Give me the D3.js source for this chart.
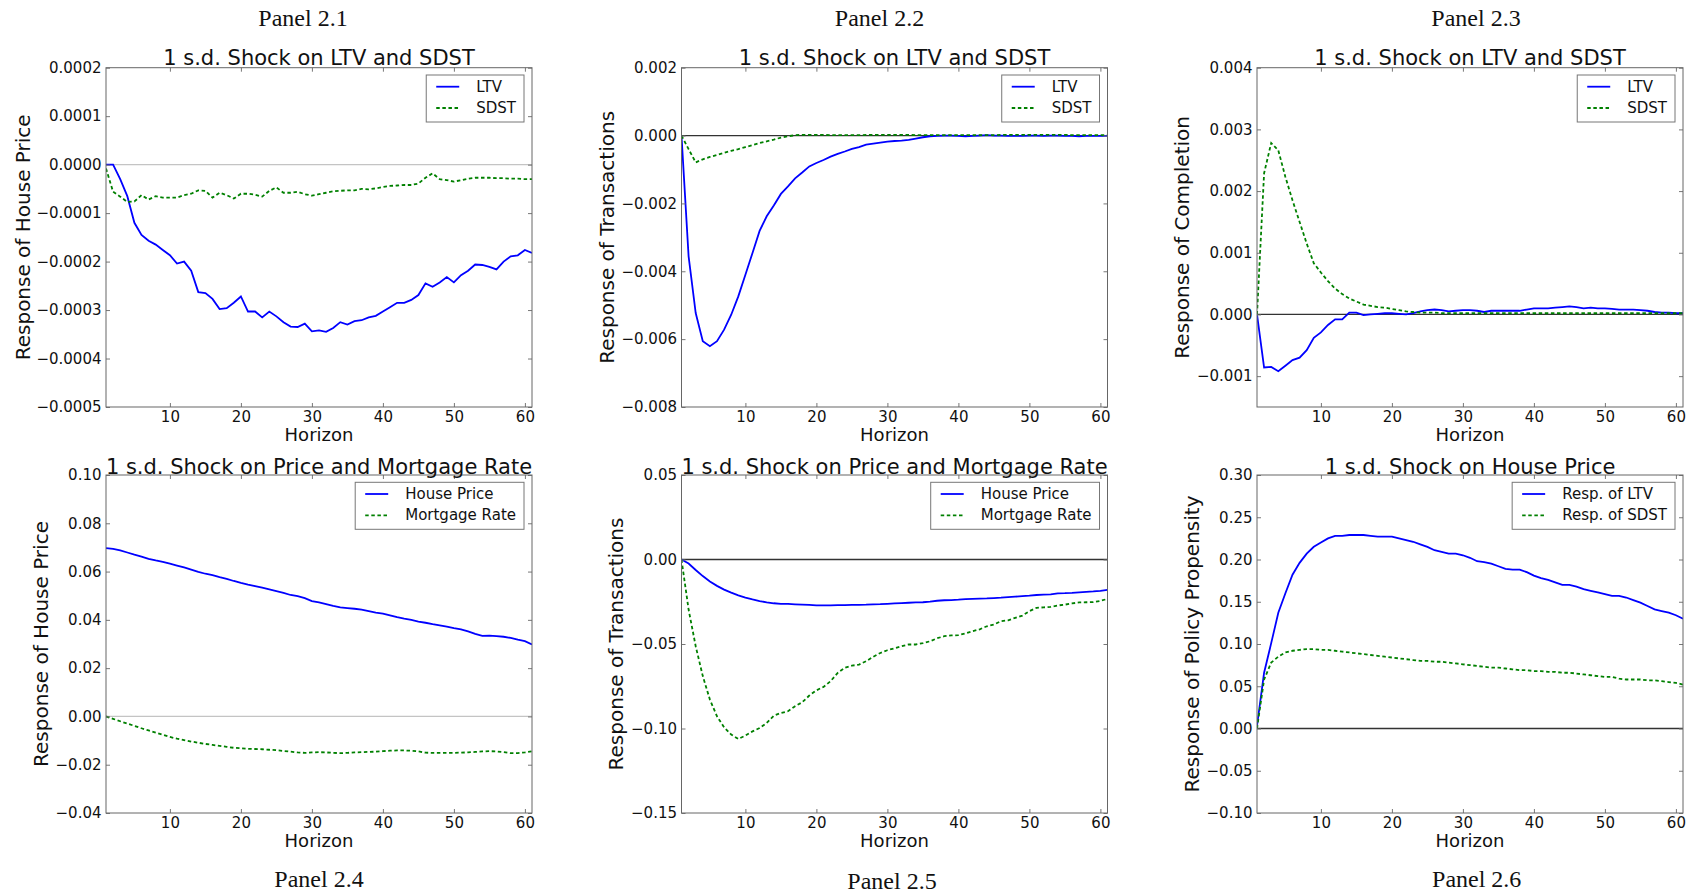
<!DOCTYPE html>
<html>
<head>
<meta charset="utf-8">
<script src="https://cdn.jsdelivr.net/npm/d3@7"></script>
<style>
  html, body { margin: 0; padding: 0; background: #fff; }
  svg { display: block; }
  text { font-family: "DejaVu Sans", sans-serif; fill: #111; }
  .plabel { font-family: "Liberation Serif", "Times New Roman", serif; }
</style>
</head>
<body>
<script>
// ---------------- DATA ----------------
const horizon = d3.range(1, 62); // horizons 1..61
const xTicks = [10, 20, 30, 40, 50, 60];

// Panel 2.1  (response of house price)
const p21LTV = [0, 0, -0.30e-4, -0.65e-4, -1.20e-4, -1.45e-4, -1.57e-4, -1.65e-4, -1.76e-4, -1.87e-4,
  -2.04e-4, -2.00e-4, -2.19e-4, -2.63e-4, -2.65e-4, -2.77e-4, -2.98e-4, -2.96e-4, -2.85e-4, -2.72e-4,
  -3.03e-4, -3.03e-4, -3.15e-4, -3.03e-4, -3.13e-4, -3.25e-4, -3.34e-4, -3.35e-4, -3.28e-4, -3.44e-4,
  -3.42e-4, -3.45e-4, -3.37e-4, -3.25e-4, -3.30e-4, -3.23e-4, -3.21e-4, -3.15e-4, -3.12e-4, -3.03e-4,
  -2.94e-4, -2.85e-4, -2.85e-4, -2.79e-4, -2.69e-4, -2.45e-4, -2.52e-4, -2.43e-4, -2.32e-4, -2.43e-4,
  -2.28e-4, -2.19e-4, -2.06e-4, -2.07e-4, -2.11e-4, -2.16e-4, -2.00e-4, -1.89e-4, -1.87e-4, -1.76e-4, -1.82e-4];
const p21SDST = [-0.08e-4, -0.56e-4, -0.66e-4, -0.77e-4, -0.76e-4, -0.63e-4, -0.72e-4, -0.65e-4, -0.68e-4, -0.68e-4,
  -0.68e-4, -0.63e-4, -0.60e-4, -0.53e-4, -0.54e-4, -0.68e-4, -0.58e-4, -0.63e-4, -0.70e-4, -0.60e-4,
  -0.60e-4, -0.62e-4, -0.66e-4, -0.54e-4, -0.47e-4, -0.58e-4, -0.58e-4, -0.56e-4, -0.61e-4, -0.64e-4,
  -0.61e-4, -0.58e-4, -0.55e-4, -0.54e-4, -0.53e-4, -0.53e-4, -0.50e-4, -0.51e-4, -0.49e-4, -0.46e-4,
  -0.44e-4, -0.43e-4, -0.42e-4, -0.42e-4, -0.39e-4, -0.27e-4, -0.18e-4, -0.30e-4, -0.32e-4, -0.35e-4,
  -0.32e-4, -0.29e-4, -0.27e-4, -0.27e-4, -0.27e-4, -0.28e-4, -0.28e-4, -0.29e-4, -0.29e-4, -0.30e-4, -0.30e-4];
const p21YTicks = [-0.0005, -0.0004, -0.0003, -0.0002, -0.0001, 0, 0.0001, 0.0002];

// Panel 2.2  (response of transactions)
const p22LTV = [0, -3.56e-3, -5.23e-3, -6.06e-3, -6.21e-3, -6.06e-3, -5.72e-3, -5.28e-3, -4.74e-3, -4.10e-3,
  -3.46e-3, -2.81e-3, -2.38e-3, -2.06e-3, -1.72e-3, -1.50e-3, -1.26e-3, -1.09e-3, -0.91e-3, -0.81e-3,
  -0.72e-3, -0.62e-3, -0.54e-3, -0.47e-3, -0.39e-3, -0.34e-3, -0.27e-3, -0.24e-3, -0.21e-3, -0.18e-3,
  -0.16e-3, -0.15e-3, -0.13e-3, -0.09e-3, -0.05e-3, -0.02e-3, -0.01e-3, 0, 0, -0.01e-3,
  -0.02e-3, -0.01e-3, 0, 0.01e-3, 0, 0, -0.01e-3, -0.01e-3, -0.01e-3, 0,
  0, -0.01e-3, 0, 0, -0.01e-3, -0.01e-3, -0.02e-3, -0.01e-3, -0.01e-3, -0.01e-3, -0.01e-3];
const p22SDST = [0, -0.40e-3, -0.79e-3, -0.70e-3, -0.63e-3, -0.57e-3, -0.51e-3, -0.45e-3, -0.40e-3, -0.34e-3,
  -0.28e-3, -0.22e-3, -0.17e-3, -0.12e-3, -0.06e-3, -0.02e-3, 0.01e-3, 0.02e-3, 0.02e-3, 0.02e-3,
  0.02e-3, 0.01e-3, 0.01e-3, 0.01e-3, 0.01e-3, 0.01e-3, 0.02e-3, 0.02e-3, 0.02e-3, 0.02e-3,
  0.02e-3, 0.02e-3, 0.02e-3, 0.01e-3, 0.01e-3, 0.01e-3, 0.01e-3, 0.01e-3, 0.01e-3, 0.01e-3,
  0.01e-3, 0.01e-3, 0.01e-3, 0.01e-3, 0.01e-3, 0.02e-3, 0.02e-3, 0.02e-3, 0.02e-3, 0.02e-3,
  0.02e-3, 0.02e-3, 0.02e-3, 0.02e-3, 0.02e-3, 0.01e-3, 0.01e-3, 0.01e-3, 0.01e-3, 0.01e-3, 0.01e-3];
const p22YTicks = [-0.008, -0.006, -0.004, -0.002, 0, 0.002];

// Panel 2.3  (response of completion)
const p23LTV = [0, -0.86e-3, -0.85e-3, -0.92e-3, -0.83e-3, -0.74e-3, -0.70e-3, -0.58e-3, -0.38e-3, -0.29e-3,
  -0.17e-3, -0.08e-3, -0.08e-3, 0.03e-3, 0.03e-3, -0.01e-3, 0, 0.01e-3, 0.02e-3, 0.02e-3,
  0.01e-3, 0, 0.02e-3, 0.05e-3, 0.07e-3, 0.08e-3, 0.07e-3, 0.05e-3, 0.06e-3, 0.07e-3,
  0.07e-3, 0.06e-3, 0.04e-3, 0.06e-3, 0.06e-3, 0.06e-3, 0.06e-3, 0.06e-3, 0.08e-3, 0.10e-3,
  0.10e-3, 0.10e-3, 0.11e-3, 0.12e-3, 0.13e-3, 0.12e-3, 0.10e-3, 0.11e-3, 0.10e-3, 0.10e-3,
  0.09e-3, 0.08e-3, 0.08e-3, 0.08e-3, 0.07e-3, 0.06e-3, 0.04e-3, 0.03e-3, 0.03e-3, 0.02e-3, 0.02e-3];
const p23SDST = [0, 2.29e-3, 2.78e-3, 2.66e-3, 2.23e-3, 1.85e-3, 1.50e-3, 1.15e-3, 0.83e-3, 0.68e-3,
  0.54e-3, 0.42e-3, 0.33e-3, 0.26e-3, 0.21e-3, 0.16e-3, 0.14e-3, 0.12e-3, 0.11e-3, 0.09e-3,
  0.07e-3, 0.05e-3, 0.04e-3, 0.03e-3, 0.03e-3, 0.03e-3, 0.02e-3, 0.02e-3, 0.02e-3, 0.02e-3,
  0.02e-3, 0.02e-3, 0.02e-3, 0.02e-3, 0.02e-3, 0.02e-3, 0.02e-3, 0.02e-3, 0.02e-3, 0.02e-3,
  0.02e-3, 0.02e-3, 0.02e-3, 0.02e-3, 0.02e-3, 0.02e-3, 0.02e-3, 0.02e-3, 0.02e-3, 0.02e-3,
  0.02e-3, 0.02e-3, 0.02e-3, 0.02e-3, 0.02e-3, 0.02e-3, 0.02e-3, 0.02e-3, 0.02e-3, 0.02e-3, 0.02e-3];
const p23YTicks = [-0.001, 0, 0.001, 0.002, 0.003, 0.004];

// Panel 2.4  (response of house price)
const p24HP = [0.0697, 0.0694, 0.0688, 0.0679, 0.0670, 0.0662, 0.0653, 0.0646, 0.0640, 0.0633,
  0.0625, 0.0617, 0.0608, 0.0599, 0.0591, 0.0585, 0.0577, 0.0570, 0.0561, 0.0553,
  0.0546, 0.0540, 0.0533, 0.0526, 0.0519, 0.0512, 0.0503, 0.0498, 0.0490, 0.0478,
  0.0472, 0.0465, 0.0458, 0.0452, 0.0449, 0.0446, 0.0442, 0.0436, 0.0430, 0.0426,
  0.0419, 0.0411, 0.0405, 0.0400, 0.0393, 0.0388, 0.0382, 0.0377, 0.0372, 0.0366,
  0.0361, 0.0352, 0.0342, 0.0334, 0.0335, 0.0333, 0.0330, 0.0325, 0.0318, 0.0312, 0.0298];
const p24MR = [0, -0.0010, -0.0020, -0.0030, -0.0039, -0.0049, -0.0058, -0.0067, -0.0076, -0.0085,
  -0.0092, -0.0098, -0.0104, -0.0109, -0.0114, -0.0118, -0.0122, -0.0126, -0.0130, -0.0132,
  -0.0134, -0.0135, -0.0136, -0.0138, -0.0140, -0.0143, -0.0146, -0.0149, -0.0151, -0.0149,
  -0.0148, -0.0149, -0.0151, -0.0152, -0.0151, -0.0149, -0.0148, -0.0147, -0.0146, -0.0144,
  -0.0142, -0.0141, -0.0141, -0.0142, -0.0145, -0.0150, -0.0151, -0.0151, -0.0151, -0.0151,
  -0.0150, -0.0149, -0.0147, -0.0145, -0.0144, -0.0145, -0.0148, -0.0152, -0.0152, -0.0149, -0.0144];
const p24YTicks = [-0.04, -0.02, 0, 0.02, 0.04, 0.06, 0.08, 0.10];

// Panel 2.5  (response of transactions)
const p25HP = [0, -0.0024, -0.0062, -0.0098, -0.0130, -0.0156, -0.0178, -0.0196, -0.0212, -0.0225,
  -0.0236, -0.0246, -0.0254, -0.0259, -0.0262, -0.0263, -0.0265, -0.0267, -0.0269, -0.0271,
  -0.0272, -0.0272, -0.0270, -0.0270, -0.0269, -0.0268, -0.0267, -0.0265, -0.0264, -0.0262,
  -0.0260, -0.0258, -0.0256, -0.0254, -0.0253, -0.0249, -0.0244, -0.0241, -0.0240, -0.0238,
  -0.0235, -0.0233, -0.0231, -0.0230, -0.0228, -0.0226, -0.0223, -0.0220, -0.0217, -0.0214,
  -0.0210, -0.0208, -0.0206, -0.0200, -0.0199, -0.0197, -0.0194, -0.0191, -0.0189, -0.0186, -0.0180];
const p25MR = [0, -0.0296, -0.0513, -0.0690, -0.0829, -0.0928, -0.0993, -0.1036, -0.1062, -0.1042,
  -0.1017, -0.0997, -0.0967, -0.0924, -0.0908, -0.0898, -0.0868, -0.0845, -0.0805, -0.0774,
  -0.0754, -0.0720, -0.0671, -0.0641, -0.0628, -0.0622, -0.0602, -0.0576, -0.0553, -0.0537,
  -0.0525, -0.0513, -0.0503, -0.0503, -0.0495, -0.0484, -0.0466, -0.0454, -0.0449, -0.0448,
  -0.0437, -0.0424, -0.0413, -0.0395, -0.0385, -0.0365, -0.0360, -0.0345, -0.0332, -0.0306,
  -0.0286, -0.0283, -0.0280, -0.0272, -0.0267, -0.0260, -0.0254, -0.0253, -0.0252, -0.0245, -0.0233];
const p25YTicks = [-0.15, -0.10, -0.05, 0, 0.05];

// Panel 2.6  (response of policy propensity)
const p26LTV = [0.003, 0.066, 0.101, 0.137, 0.160, 0.182, 0.196, 0.207, 0.215, 0.220,
  0.225, 0.228, 0.228, 0.229, 0.229, 0.229, 0.228, 0.227, 0.227, 0.227,
  0.225, 0.223, 0.221, 0.218, 0.215, 0.211, 0.209, 0.207, 0.207, 0.205,
  0.202, 0.198, 0.197, 0.195, 0.192, 0.189, 0.188, 0.188, 0.185, 0.181,
  0.178, 0.176, 0.173, 0.170, 0.170, 0.168, 0.165, 0.163, 0.161, 0.159,
  0.157, 0.157, 0.155, 0.152, 0.149, 0.145, 0.141, 0.139, 0.137, 0.134, 0.130];
const p26SDST = [0, 0.058, 0.078, 0.085, 0.090, 0.092, 0.093, 0.094, 0.094, 0.093,
  0.093, 0.092, 0.091, 0.090, 0.089, 0.088, 0.087, 0.086, 0.085, 0.084,
  0.083, 0.082, 0.081, 0.080, 0.080, 0.079, 0.079, 0.078, 0.077, 0.076,
  0.075, 0.074, 0.073, 0.072, 0.072, 0.071, 0.070, 0.069, 0.069, 0.068,
  0.068, 0.067, 0.067, 0.066, 0.066, 0.065, 0.064, 0.063, 0.062, 0.061,
  0.061, 0.059, 0.058, 0.058, 0.058, 0.057, 0.057, 0.056, 0.055, 0.054, 0.052];
const p26YTicks = [-0.10, -0.05, 0, 0.05, 0.10, 0.15, 0.20, 0.25, 0.30];

// ---------------- PANELS ----------------
const panels = [
  { label: "Panel 2.1", title: "1 s.d. Shock on LTV and SDST", ylab: "Response of House Price",
    dom: [-0.0005, 0.0002], ticks: p21YTicks, fmt: ".4f", zero: "#c4c4c4",
    series: [{ name: "LTV", v: p21LTV }, { name: "SDST", v: p21SDST }] },
  { label: "Panel 2.2", title: "1 s.d. Shock on LTV and SDST", ylab: "Response of Transactions",
    dom: [-0.008, 0.002], ticks: p22YTicks, fmt: ".3f", zero: "#333",
    series: [{ name: "LTV", v: p22LTV }, { name: "SDST", v: p22SDST }] },
  { label: "Panel 2.3", title: "1 s.d. Shock on LTV and SDST", ylab: "Response of Completion",
    dom: [-0.0015, 0.004], ticks: p23YTicks, fmt: ".3f", zero: "#333",
    series: [{ name: "LTV", v: p23LTV }, { name: "SDST", v: p23SDST }] },
  { label: "Panel 2.4", title: "1 s.d. Shock on Price and Mortgage Rate", ylab: "Response of House Price",
    dom: [-0.04, 0.10], ticks: p24YTicks, fmt: ".2f", zero: "#c4c4c4",
    series: [{ name: "House Price", v: p24HP }, { name: "Mortgage Rate", v: p24MR }] },
  { label: "Panel 2.5", title: "1 s.d. Shock on Price and Mortgage Rate", ylab: "Response of Transactions",
    dom: [-0.15, 0.05], ticks: p25YTicks, fmt: ".2f", zero: "#333",
    series: [{ name: "House Price", v: p25HP }, { name: "Mortgage Rate", v: p25MR }] },
  { label: "Panel 2.6", title: "1 s.d. Shock on House Price", ylab: "Response of Policy Propensity",
    dom: [-0.10, 0.30], ticks: p26YTicks, fmt: ".2f", zero: "#333",
    series: [{ name: "Resp. of LTV", v: p26LTV }, { name: "Resp. of SDST", v: p26SDST }] }
];

// ---------------- LAYOUT ----------------
const W = 1698, H = 894;
const colX = [106, 681.5, 1257];
const rowY = [67.7, 475];
const rowH = [339.3, 338];
const PW = 426;
const ylabOff = [76.5, 67.7, 68, 58, 58.5, 58];
const labelPos = [[303, 26], [879.5, 26], [1476, 26], [319, 887], [892, 888.5], [1476.7, 886.5]];
const colors = ["#0000ff", "#008000"];
const dashes = [null, "3.5,2.6"];

const svg = d3.select("body").append("svg").attr("width", W).attr("height", H);
svg.append("rect").attr("width", W).attr("height", H).attr("fill", "#fff");

panels.forEach((p, i) => {
  const c = i % 3, r = Math.floor(i / 3);
  const ox = colX[c], oy = rowY[r], ph = rowH[r];
  const g = svg.append("g").attr("transform", `translate(${ox},${oy})`);
  const x = d3.scaleLinear().domain([1, 61]).range([0, PW]);
  const y = d3.scaleLinear().domain(p.dom).range([ph, 0]);

  const clipId = "clip" + i;
  g.append("clipPath").attr("id", clipId).append("rect").attr("width", PW).attr("height", ph);

  // zero line
  g.append("line").attr("x1", 0).attr("x2", PW).attr("y1", y(0)).attr("y2", y(0))
    .attr("stroke", p.zero).attr("stroke-width", 1.3);

  // series
  const line = d3.line().x((d, k) => x(horizon[k])).y(d => y(d));
  p.series.forEach((s, k) => {
    g.append("path").datum(s.v).attr("d", line).attr("fill", "none")
      .attr("clip-path", `url(#${clipId})`)
      .attr("stroke", colors[k]).attr("stroke-width", 1.8)
      .attr("stroke-dasharray", dashes[k]);
  });

  // axes (ticks inside, mirrored)
  const fmt = d3.format(p.fmt);
  const axB = g.append("g").attr("transform", `translate(0,${ph})`)
    .call(d3.axisBottom(x).tickValues(xTicks).tickSize(-4).tickPadding(4).tickFormat(d3.format("d")));
  const axT = g.append("g")
    .call(d3.axisTop(x).tickValues(xTicks).tickSize(-4).tickFormat(""));
  const axL = g.append("g")
    .call(d3.axisLeft(y).tickValues(p.ticks).tickSize(-4).tickPadding(4.5).tickFormat(fmt));
  const axR = g.append("g").attr("transform", `translate(${PW},0)`)
    .call(d3.axisRight(y).tickValues(p.ticks).tickSize(-4).tickFormat(""));
  [axB, axT, axL, axR].forEach(a => {
    a.select(".domain").remove();
    a.selectAll(".tick line").attr("stroke", "#777");
    a.selectAll("text").attr("font-family", "DejaVu Sans").attr("font-size", 15).attr("fill", "#111");
  });

  // frame
  g.append("rect").attr("width", PW).attr("height", ph).attr("fill", "none")
    .attr("stroke", "#666").attr("stroke-width", 1);

  // title
  g.append("text").attr("x", PW / 2).attr("y", r === 0 ? -2.4 : -1)
    .attr("text-anchor", "middle").attr("font-size", 21).text(p.title);

  // x label
  g.append("text").attr("x", PW / 2).attr("y", ph + 34.3)
    .attr("text-anchor", "middle").attr("font-size", 18).text("Horizon");

  // y label
  g.append("text").attr("transform", `translate(${-ylabOff[i]},${ph / 2}) rotate(-90)`)
    .attr("text-anchor", "middle").attr("font-size", 20).text(p.ylab);

  // legend
  const lg = g.append("g");
  const texts = p.series.map((s, k) =>
    lg.append("text").attr("x", 50).attr("y", 11.7 + k * 21.3 + 5.2)
      .attr("font-size", 15).text(s.name));
  const tw = d3.max(texts, t => t.node().getComputedTextLength());
  const lw = 50 + tw + 8, lh = 47;
  lg.insert("rect", ":first-child").attr("width", lw).attr("height", lh)
    .attr("fill", "#fff").attr("stroke", "#777").attr("stroke-width", 1);
  p.series.forEach((s, k) => {
    lg.append("line").attr("x1", 10).attr("x2", 33)
      .attr("y1", 11.7 + k * 21.3).attr("y2", 11.7 + k * 21.3)
      .attr("stroke", colors[k]).attr("stroke-width", 1.8).attr("stroke-dasharray", dashes[k]);
  });
  lg.attr("transform", `translate(${PW - 8 - lw},${7.3})`);

  // panel label
  svg.append("text").attr("class", "plabel")
    .attr("x", labelPos[i][0]).attr("y", labelPos[i][1])
    .attr("text-anchor", "middle").attr("font-size", 24).text(p.label);
});
</script>
</body>
</html>
